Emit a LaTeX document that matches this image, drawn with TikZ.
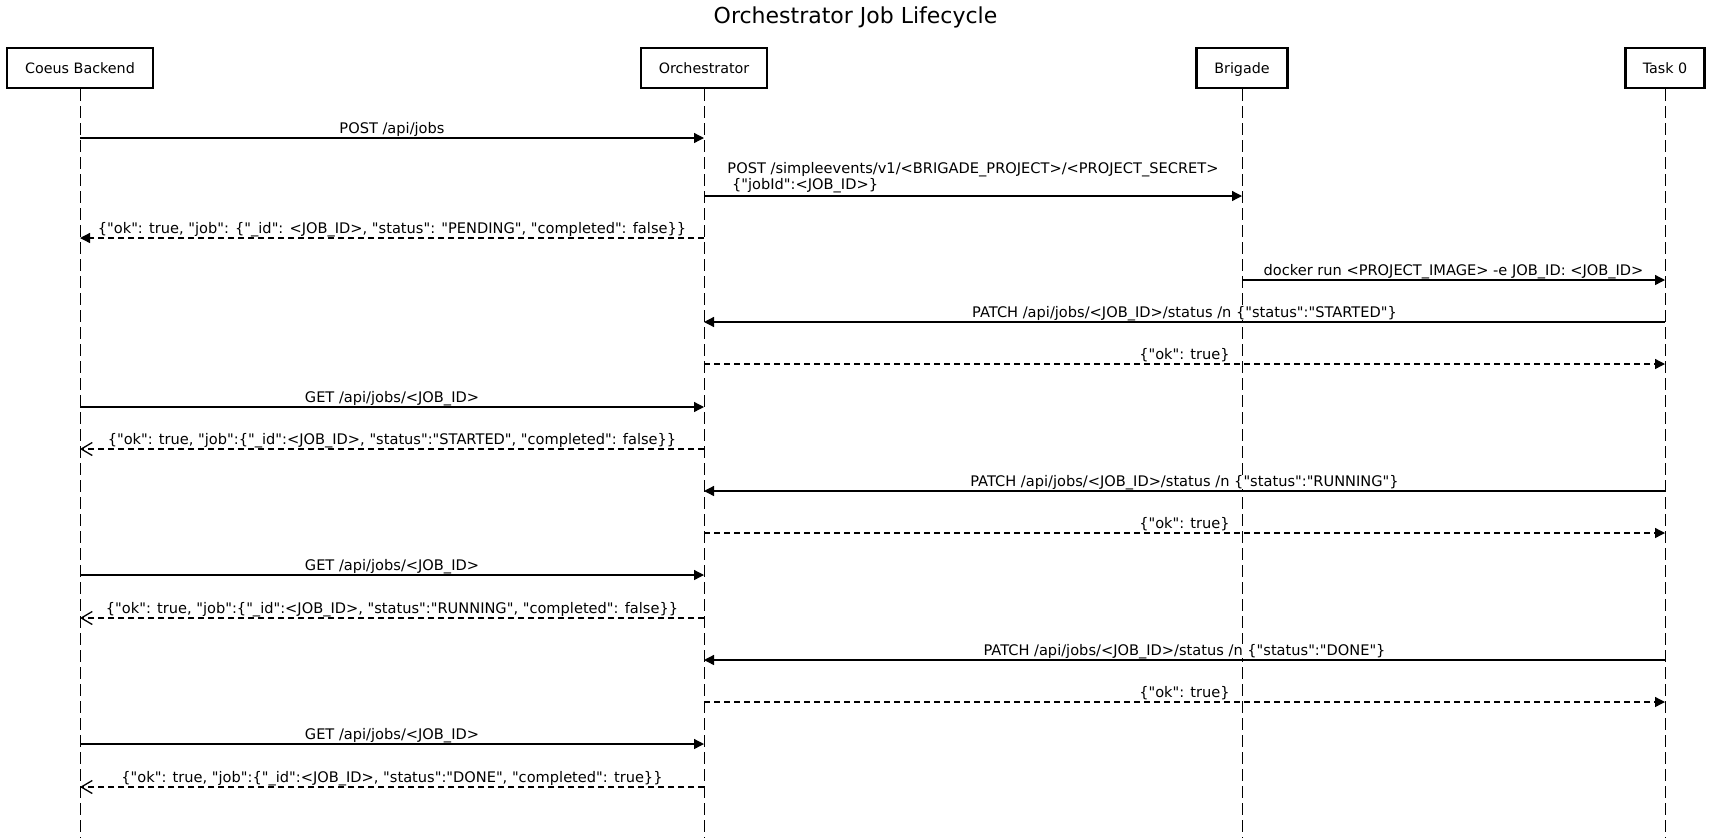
\documentclass[tikz,border=0pt]{standalone}
\usepackage{fontspec}
\setmainfont{DejaVu Sans}[Ligatures=TeXOff]
\usetikzlibrary{arrows.meta}
\begin{document}
\begin{tikzpicture}[x=1pt,y=-1pt,
  actor/.style={draw,line width=2.4pt,minimum height=40pt,inner sep=0pt,
    font=\fontsize{14.3}{16}\selectfont,text height=10.4pt,text depth=0pt},
  lifeline/.style={line width=1pt,dash pattern=on 12pt off 5pt},
  msg/.style={line width=1.3pt,-{Triangle[length=10pt,width=10pt]}},
  reply/.style={line width=1.3pt,dash pattern=on 6pt off 4pt,-{Triangle[length=10pt,width=10pt]}},
  openreply/.style={line width=1.3pt,dash pattern=on 6pt off 4pt,-{Straight Barb[length=11pt,width=13pt]}},
  lbl/.style={font=\fontsize{14.6}{16}\selectfont,anchor=base,inner sep=0pt,yshift=5pt,fill=white}
]
\useasboundingbox (0,0) rectangle (1711,839);
\node[font=\fontsize{22}{26}\selectfont,anchor=base,inner sep=0pt] (title) at (855.5,23) {Orchestrator Job Lifecycle};

\node[actor,minimum width=146pt] (cb) at (80,68) {Coeus Backend};
\node[actor,minimum width=126pt] (or) at (704,68) {Orchestrator};
\node[actor,minimum width=91pt] (br) at (1242,68) {Brigade};
\node[actor,minimum width=79pt] (tk) at (1665,68) {Task 0};

\foreach \n/\x in {cb/80,or/704,br/1242,tk/1665}{
  \coordinate (\n e) at (\x,838);
  \draw[lifeline] (\n.south) -- (\n e);
}

\foreach \i/\y in {1/138,2/196,3/238,4/280,5/322,6/364,7/407,8/449,9/491,10/533,11/575,12/618,13/660,14/702,15/744,16/787}{
  \coordinate (cb\i) at (80,\y);
  \coordinate (or\i) at (704,\y);
  \coordinate (br\i) at (1242,\y);
  \coordinate (tk\i) at (1665,\y);
}

\draw[msg] (cb1) -- node[lbl] {POST /api/jobs} (or1);
\draw[msg] (or2) -- node[font=\fontsize{14.6}{16}\selectfont,anchor=south,inner sep=0pt,yshift=2.5pt,align=left,fill=white] {POST /simpleevents/v1/<BRIGADE\_PROJECT>/<PROJECT\_SECRET>\\\ \{"jobId":<JOB\_ID>\}} (br2);
\draw[reply] (or3) -- node[lbl] {\{"ok": true, "job": \{"\_id": <JOB\_ID>, "status": "PENDING", "completed": false\}\}} (cb3);
\draw[msg] (br4) -- node[lbl] {docker run <PROJECT\_IMAGE> -e JOB\_ID: <JOB\_ID>} (tk4);
\draw[msg] (tk5) -- node[lbl] {PATCH /api/jobs/<JOB\_ID>/status /n \{"status":"STARTED"\}} (or5);
\draw[reply] (or6) -- node[lbl] {\{"ok": true\}} (tk6);
\draw[msg] (cb7) -- node[lbl] {GET /api/jobs/<JOB\_ID>} (or7);
\draw[openreply] (or8) -- node[lbl] {\{"ok": true, "job":\{"\_id":<JOB\_ID>, "status":"STARTED", "completed": false\}\}} (cb8);
\draw[msg] (tk9) -- node[lbl] {PATCH /api/jobs/<JOB\_ID>/status /n \{"status":"RUNNING"\}} (or9);
\draw[reply] (or10) -- node[lbl] {\{"ok": true\}} (tk10);
\draw[msg] (cb11) -- node[lbl] {GET /api/jobs/<JOB\_ID>} (or11);
\draw[openreply] (or12) -- node[lbl] {\{"ok": true, "job":\{"\_id":<JOB\_ID>, "status":"RUNNING", "completed": false\}\}} (cb12);
\draw[msg] (tk13) -- node[lbl] {PATCH /api/jobs/<JOB\_ID>/status /n \{"status":"DONE"\}} (or13);
\draw[reply] (or14) -- node[lbl] {\{"ok": true\}} (tk14);
\draw[msg] (cb15) -- node[lbl] {GET /api/jobs/<JOB\_ID>} (or15);
\draw[openreply] (or16) -- node[lbl] {\{"ok": true, "job":\{"\_id":<JOB\_ID>, "status":"DONE", "completed": true\}\}} (cb16);
\end{tikzpicture}
\end{document}
